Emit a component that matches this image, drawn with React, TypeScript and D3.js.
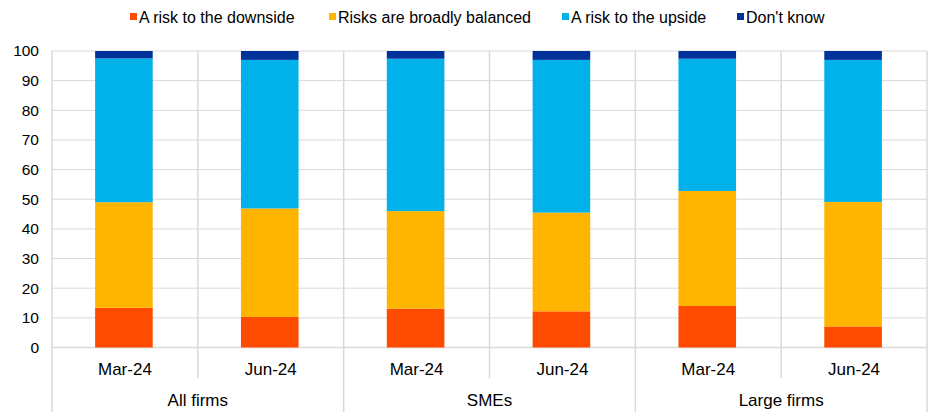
import React, { useEffect, useRef } from "react";
import * as d3 from "d3";

const groups = ["All firms", "SMEs", "Large firms"];
const periods = ["Mar-24", "Jun-24"];
const seriesNames = ["A risk to the downside", "Risks are broadly balanced", "A risk to the upside", "Don't know"];
const seriesColors = ["#FF4B00", "#FFB400", "#00B1EA", "#003299"];
const downside = [13.4, 10.3, 13.1, 12.2, 14.0, 7.1];
const balanced = [35.6, 36.6, 32.9, 33.3, 38.8, 42.0];
const upside = [48.5, 50.1, 51.4, 51.5, 44.6, 47.9];
const dontKnow = [2.5, 3.0, 2.6, 3.0, 2.6, 3.0];
const yTicks = [0, 10, 20, 30, 40, 50, 60, 70, 80, 90, 100];

const W = 928;
const H = 412;
const FONT = "Arial, 'Liberation Sans', sans-serif";

export default function App() {
  const ref = useRef<SVGSVGElement | null>(null);

  useEffect(() => {
    const svg = d3.select(ref.current);
    svg.selectAll("*").remove();

    const left = 52;
    const right = 927;
    const top = 51;
    const bottom = 347.5;

    const cats: string[] = [];
    const catPeriod: string[] = [];
    groups.forEach((g) =>
      periods.forEach((p) => {
        cats.push(g + "|" + p);
        catPeriod.push(p);
      })
    );

    const x = d3.scaleBand<string>().domain(cats).range([left, right]).paddingInner(0).paddingOuter(0);
    const y = d3.scaleLinear().domain([0, 100]).range([bottom, top]);
    const bw = x.bandwidth();
    const barW = bw * 0.395;

    const grid = "#d9d9d9";

    // horizontal gridlines
    svg
      .append("g")
      .selectAll("line")
      .data(yTicks)
      .join("line")
      .attr("x1", left)
      .attr("x2", right)
      .attr("y1", (d) => y(d))
      .attr("y2", (d) => y(d))
      .attr("stroke", grid)
      .attr("stroke-width", (d) => (d === 0 ? 1.5 : 1));

    // vertical separators
    const sep = svg.append("g");
    cats.forEach((c, i) => {
      const xx = (x(c) as number) + bw;
      const isGroupEnd = i % periods.length === periods.length - 1;
      sep
        .append("line")
        .attr("x1", xx)
        .attr("x2", xx)
        .attr("y1", top)
        .attr("y2", isGroupEnd ? H : 378)
        .attr("stroke", grid)
        .attr("stroke-width", 1.5);
    });
    sep
      .append("line")
      .attr("x1", left)
      .attr("x2", left)
      .attr("y1", top)
      .attr("y2", H)
      .attr("stroke", grid)
      .attr("stroke-width", 1.5);

    // stacked bars
    const rows = cats.map((c, i) => ({
      cat: c,
      s0: downside[i],
      s1: balanced[i],
      s2: upside[i],
      s3: dontKnow[i],
    }));
    const stack = d3.stack<any>().keys(["s0", "s1", "s2", "s3"]);
    const stacked = stack(rows);

    svg
      .append("g")
      .selectAll("g")
      .data(stacked)
      .join("g")
      .attr("fill", (_d, i) => seriesColors[i])
      .selectAll("rect")
      .data((d) => d)
      .join("rect")
      .attr("x", (d: any) => (x(d.data.cat) as number) + (bw - barW) / 2 - 1)
      .attr("width", barW)
      .attr("y", (d) => y(d[1]))
      .attr("height", (d) => y(d[0]) - y(d[1]));

    // y axis labels
    svg
      .append("g")
      .selectAll("text")
      .data(yTicks)
      .join("text")
      .attr("x", 39)
      .attr("y", (d) => y(d))
      .attr("dy", "0.35em")
      .attr("text-anchor", "end")
      .attr("font-family", FONT)
      .attr("font-size", 15.5)
      .attr("fill", "#000")
      .text((d) => String(d));

    // period labels
    svg
      .append("g")
      .selectAll("text")
      .data(cats)
      .join("text")
      .attr("x", (c) => (x(c) as number) + bw / 2)
      .attr("y", 369)
      .attr("dy", "0.35em")
      .attr("text-anchor", "middle")
      .attr("font-family", FONT)
      .attr("font-size", 17)
      .text((_c, i) => catPeriod[i]);

    // group labels
    groups.forEach((g, gi) => {
      const first = cats[gi * periods.length];
      const gx = (x(first) as number) + (bw * periods.length) / 2;
      svg
        .append("text")
        .attr("x", gx)
        .attr("y", 400)
        .attr("dy", "0.35em")
        .attr("text-anchor", "middle")
        .attr("font-family", FONT)
        .attr("font-size", 17)
        .text(g);
    });

    // legend
    const legendX = [130, 329, 562, 737];
    const leg = svg.append("g");
    seriesNames.forEach((n, i) => {
      leg
        .append("rect")
        .attr("x", legendX[i])
        .attr("y", 13)
        .attr("width", 7)
        .attr("height", 7)
        .attr("fill", seriesColors[i]);
      leg
        .append("text")
        .attr("x", legendX[i] + 9)
        .attr("y", 17)
        .attr("dy", "0.35em")
        .attr("font-family", FONT)
        .attr("font-size", 16)
        .text(n);
    });
  }, []);

  return (
    <svg
      ref={ref}
      width={W}
      height={H}
      style={{ position: "absolute", left: 0, top: 0, background: "#fff" }}
    />
  );
}
